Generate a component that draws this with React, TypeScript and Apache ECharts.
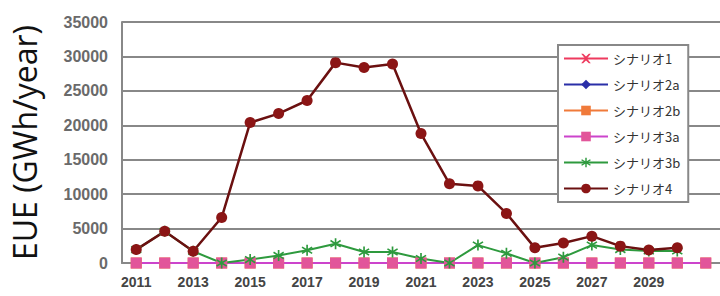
import React, { useEffect, useRef } from "react";
import * as echarts from "echarts";

const years = ["2011","2012","2013","2014","2015","2016","2017","2018","2019","2020","2021","2022","2023","2024","2025","2026","2027","2028","2029","2030","2031"];
const seriesNames = ["シナリオ1","シナリオ2a","シナリオ2b","シナリオ3a","シナリオ3b","シナリオ4"];
const s1 = [0,0,0,0,0,0,0,0,0,0,0,0,0,0,0,0,0,0,0,0,0];
const s2a = [0,0,0,0,0,0,0,0,0,0,0,0,0,0,0,0,0,0,0,0,0];
const s2b = [0,0,0,0,0,0,0,0,0,0,0,0,0,0,0,0,0,0,0,0,0];
const s3a = [0,0,0,0,0,0,0,0,0,0,0,0,0,0,0,0,0,0,0,0,0];
const s3b = [1950,4600,1700,0,500,1100,1850,2800,1600,1600,650,0,2600,1400,0,850,2600,1950,1750,1750,null];
const s4 = [1950,4600,1700,6600,20400,21700,23600,29100,28400,28900,18800,11500,11200,7200,2200,2900,3900,2450,1900,2200,null];
const yTicks = [0,5000,10000,15000,20000,25000,30000,35000];

const xPath = "path://M0,0L2,0L5,3L8,0L10,0L6,5L10,10L8,10L5,7L2,10L0,10L4,5Z";
const starPath = "path://M4.3,0H5.7V3.6L8.9,1.5L9.6,2.7L6.3,5L9.6,7.3L8.9,8.5L5.7,6.4V10H4.3V6.4L1.1,8.5L0.4,7.3L3.7,5L0.4,2.7L1.1,1.5L4.3,3.6Z";

export default function App() {
  const ref = useRef<HTMLDivElement>(null);
  useEffect(() => {
    if (!ref.current) return;
    const chart = echarts.init(ref.current, null, { renderer: "svg" });
    const mk = (name: string, data: any[], color: string, symbol: string, size: number, lineColor?: string, width = 2) => ({
      name, type: "line", data, symbol, symbolSize: size, showAllSymbol: true,
      connectNulls: false,
      lineStyle: { color: lineColor || color, width },
      itemStyle: { color },
    });
    chart.setOption({
      animation: false,
      backgroundColor: "#fff",
      grid: { left: 121, right: 0, top: 22, bottom: 33 },
      xAxis: {
        type: "category", data: years, boundaryGap: true,
        axisLine: { lineStyle: { color: "#888", width: 2 } },
        axisTick: { show: false },
        axisLabel: {
          interval: (i: number) => i % 2 === 0 && i < 20,
          color: "#444", fontSize: 14, fontWeight: "bold", fontFamily: "Liberation Sans", margin: 12,
        },
      },
      yAxis: {
        type: "value", min: 0, max: 35000, interval: 5000,
        name: "EUE (GWh/year)", nameLocation: "middle", nameGap: 82, nameRotate: 90,
        nameTextStyle: { fontSize: 32, color: "#111", fontFamily: "Open Sans" },
        axisLine: { show: true, lineStyle: { color: "#888", width: 2 } },
        axisTick: { show: false },
        splitLine: { lineStyle: { color: "#888", width: 2 } },
        axisLabel: {
          color: "#6a6a6a", fontSize: 16, fontWeight: "bold", fontFamily: "Liberation Sans", margin: 14,
          formatter: (v: number) => (yTicks.includes(v) ? String(v) : ""),
        },
      },
      legend: {
        orient: "vertical", left: 558, top: 45,
        padding: [7, 8, 7, 5], itemGap: 13, itemWidth: 44, itemHeight: 12,
        backgroundColor: "#fff", borderColor: "#888", borderWidth: 2,
        textStyle: { fontSize: 13, color: "#333", fontFamily: "Noto Sans CJK JP" },
        data: seriesNames,
      },
      series: [
        mk(seriesNames[0], s1, "#ee3a5e", xPath, 9),
        mk(seriesNames[1], s2a, "#2a2fa8", "diamond", 10),
        mk(seriesNames[2], s2b, "#f07a3a", "rect", 11),
        mk(seriesNames[3], s3a, "#e2559a", "rect", 11, "#cc44cc"),
        mk(seriesNames[4], s3b, "#2e9a3e", starPath, 11),
        mk(seriesNames[5], s4, "#8b1515", "circle", 11, "#6b1010", 2.5),
      ],
    });
    return () => chart.dispose();
  }, []);
  return <div ref={ref} style={{ position: "fixed", left: 0, top: 0, width: 720, height: 296 }} />;
}
